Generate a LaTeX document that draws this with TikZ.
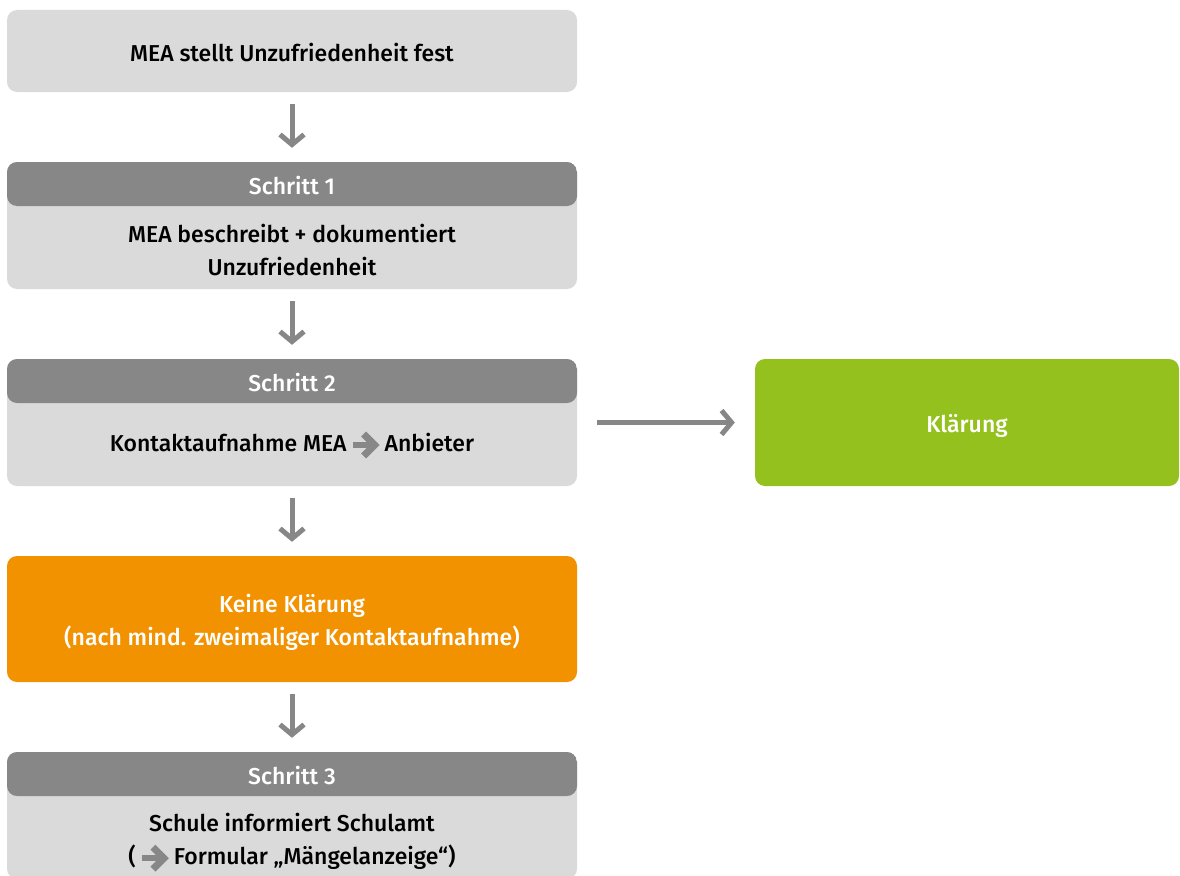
\documentclass[tikz,border=0pt]{standalone}
\usepackage{fontspec}
\setmainfont{Fira Sans}[UprightFont=* Medium]
\usetikzlibrary{arrows.meta}

\definecolor{boxgray}{HTML}{DADADA}
\definecolor{headgray}{HTML}{878787}
\definecolor{arrowgray}{HTML}{878787}
\definecolor{okgreen}{HTML}{95C11F}
\definecolor{warnorange}{HTML}{F39200}

% small solid arrow used inside running text
\newcommand{\inarrow}{\hspace{5pt}\tikz[baseline=-6pt]{%
  \useasboundingbox (-2,-13) rectangle (26,13);
  \draw[arrowgray, line width=6.5pt] (-1,0) -- (18,0);
  \draw[arrowgray, line width=7pt, miter limit=4] (10,11) -- (21,0) -- (10,-11);}%
  \hspace{5pt}}

\begin{document}
\begin{tikzpicture}[x=1pt, y=1pt,
  every node/.style={font=\fontsize{23}{33}\selectfont, align=center},
  panel/.style={rounded corners=10pt, minimum width=570pt, inner sep=0pt},
  stepbox/.style={panel, fill=boxgray, minimum height=127pt,
    path picture={\fill[headgray]
      ([yshift=-44pt]path picture bounding box.north west) rectangle
      (path picture bounding box.north east);}},
  headtxt/.style={text=white},
  flow/.style={draw=arrowgray, line width=5pt,
    -{Straight Barb[length=10pt, width=24pt]},
    shorten <=12pt, shorten >=14pt},
]
\useasboundingbox (0,0) rectangle (1180,-875);

% start
\node[panel, fill=boxgray, minimum height=82pt] (start) at (292,-51) {};
\node (st) at (292,-53) {MEA stellt Unzufriedenheit fest};

% step 1
\node[stepbox] (s1) at (292,-225.5) {};
\node[headtxt] (h1) at ([yshift=-24pt]s1.north) {Schritt 1};
\node (b1) at (292,-250.5) {MEA beschreibt + dokumentiert\\Unzufriedenheit};

% step 2
\node[stepbox] (s2) at (292,-422.5) {};
\node[headtxt] (h2) at ([yshift=-24pt]s2.north) {Schritt 2};
\node (b2) at (292,-445) {Kontaktaufnahme MEA\inarrow Anbieter};

% resolved
\node[panel, fill=okgreen, minimum width=424pt, minimum height=127pt]
  (ok) at (967,-422.5) {};
\node[text=white] (okt) at ([yshift=-3pt]ok.center) {Klärung};

% not resolved
\node[panel, fill=warnorange, minimum height=126pt] (no) at (292,-619) {};
\node[text=white] (not) at ([yshift=-3pt]no.center)
  {Keine Klärung\\(nach mind. zweimaliger Kontaktaufnahme)};

% step 3
\node[stepbox] (s3) at (292,-815.5) {};
\node[headtxt] (h3) at ([yshift=-24pt]s3.north) {Schritt 3};
\node (b3) at (292,-842) {Schule informiert Schulamt\\(\inarrow Formular „Mängelanzeige“)};

% connectors
\draw[flow] (start.south) -- (s1.north);
\draw[flow] (s1.south) -- (s2.north);
\draw[flow] (s2.south) -- (no.north);
\draw[flow] (no.south) -- (s3.north);
\draw[flow, shorten <=20pt, shorten >=20pt] (s2.east |- ok.west) -- (ok.west);
\end{tikzpicture}
\end{document}
